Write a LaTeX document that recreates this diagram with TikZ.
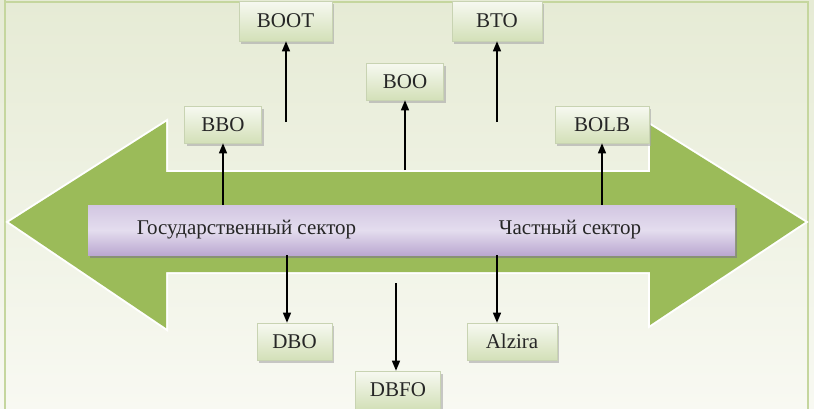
\documentclass[tikz,border=0pt]{standalone}
\usepackage{fontspec}
\setmainfont{Liberation Serif}
\newfontfamily\lblfont{Liberation Serif}
\usetikzlibrary{arrows.meta,shadows}
\definecolor{bgA}{HTML}{E6EBD5}
\definecolor{bgB}{HTML}{F8F9F2}
\definecolor{frameG}{HTML}{C5D69E}
\definecolor{arrG}{HTML}{9BBB59}
\definecolor{boxTop}{HTML}{F7F9F1}
\definecolor{boxBot}{HTML}{D3E0B8}
\definecolor{boxLine}{HTML}{C8D3B2}
\definecolor{purTop}{HTML}{D2C6E2}
\definecolor{purMid}{HTML}{E4DDEE}
\definecolor{purBot}{HTML}{BBA8D1}
\tikzset{
  lbl/.style={font=\lblfont\fontsize{21}{24}\selectfont, text=black!85},
  gbox/.style={lbl, draw=boxLine, line width=0.6pt, top color=boxTop, bottom color=boxBot,
     inner sep=0pt, drop shadow={shadow xshift=2pt, shadow yshift=-2.5pt, fill=black!35, opacity=0.6}},
  pbar/.style={lbl, top color=purTop, bottom color=purBot, middle color=purMid, inner sep=0pt,
     minimum height=50pt, drop shadow={shadow xshift=1.5pt, shadow yshift=-3pt, fill=black!50, opacity=0.7}},
  arr/.style={line width=1.3pt, -{Triangle[length=10pt,width=8pt]}}
}
\begin{document}
\begin{tikzpicture}[x=1pt,y=-1pt]
\useasboundingbox (0,0) rectangle (814,408);
\shade[top color=bgA, bottom color=bgB] (0,0) rectangle (814,408);
\draw[frameG, line width=1.8pt] (5,-5) -- (5,430);
\draw[frameG, line width=1.8pt] (5,2) -- (808,2) -- (808,430);
% double arrow
\draw[white, line width=4pt, line join=miter, fill=arrG]
  (9,222) -- (166,122) -- (166,172) -- (650,172) -- (650,125) -- (805,222)
  -- (650,325) -- (650,272) -- (166,272) -- (166,328) -- cycle;
\fill[arrG]
  (9,222) -- (166,122) -- (166,172) -- (650,172) -- (650,125) -- (805,222)
  -- (650,325) -- (650,272) -- (166,272) -- (166,328) -- cycle;
% bar
\node[pbar, minimum width=317pt] (gov) at (246.5,230) {Государственный сектор};
\node[pbar, minimum width=330pt] (priv) at (570,230) {Частный сектор};
% boxes
\node[gbox, minimum width=93pt, minimum height=40pt] (boot) at (285.5,21) {BOOT};
\node[gbox, minimum width=90pt, minimum height=40pt] (bto) at (497,21) {BTO};
\node[gbox, minimum width=77pt, minimum height=37pt] (boo) at (405,81.5) {BOO};
\node[gbox, minimum width=77pt, minimum height=37pt] (bbo) at (223,124.5) {BBO};
\node[gbox, minimum width=94pt, minimum height=37pt] (bolb) at (602,124.5) {BOLB};
\node[gbox, minimum width=75pt, minimum height=37pt] (dbo) at (294.5,341.5) {DBO};
\node[gbox, minimum width=90pt, minimum height=37pt] (alz) at (512,341.5) {Alzira};
\node[gbox, minimum width=85pt, minimum height=38pt] (dbfo) at (398,390) {DBFO};
% free ends
\coordinate (sboot) at (286,122);
\coordinate (sbto) at (497,122);
\coordinate (sboo) at (405,170);
\coordinate (sdbfo) at (396,283);
% connectors
\draw[arr] (gov.north -| bbo.south) -- (bbo.south);
\draw[arr] (sboot) -- (sboot |- boot.south);
\draw[arr] (sboo) -- (boo.south);
\draw[arr] (sbto) -- (sbto |- bto.south);
\draw[arr] (priv.north -| bolb.south) -- (bolb.south);
\draw[arr] ([xshift=-7.5pt]dbo.north |- gov.south) -- ([xshift=-7.5pt]dbo.north);
\draw[arr] ([xshift=-15pt]alz.north |- priv.south) -- ([xshift=-15pt]alz.north);
\draw[arr] (sdbfo) -- (sdbfo |- dbfo.north);
\end{tikzpicture}
\end{document}
